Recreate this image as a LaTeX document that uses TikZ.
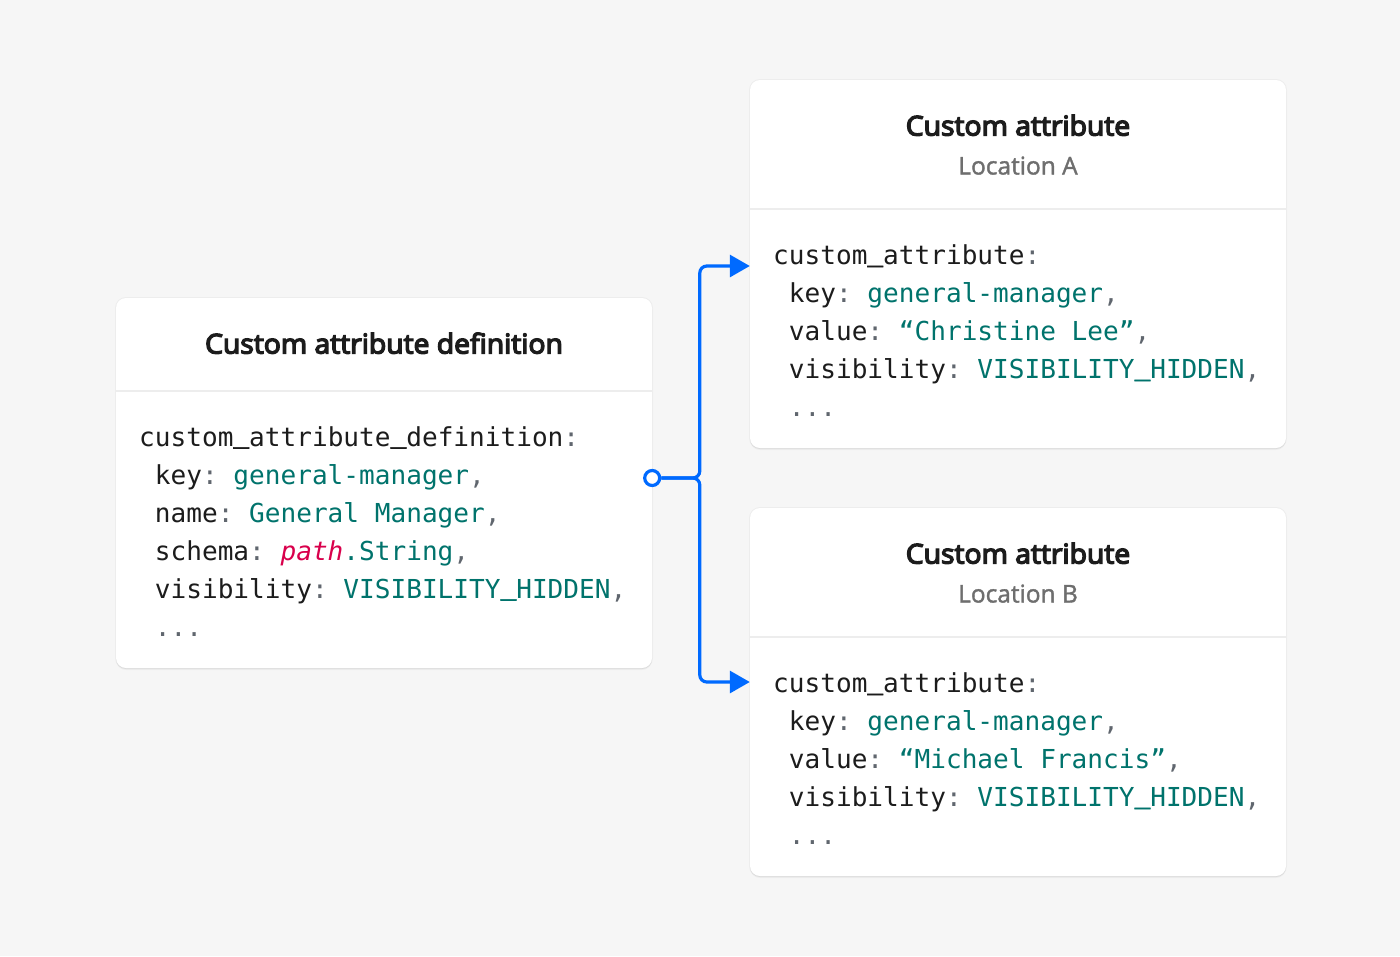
\documentclass[tikz,border=0pt]{standalone}
\usepackage{fontspec}
\setmonofont{DejaVu Sans Mono}
\newfontfamily\titlefont{Open Sans}[FakeBold=5,FakeStretch=1.04]
\newfontfamily\subfont{Open Sans}[FakeBold=1.5]
\usetikzlibrary{arrows.meta}
\definecolor{bg}{HTML}{F6F6F6}
\definecolor{linkblue}{HTML}{006AFF}
\definecolor{codeteal}{HTML}{00736C}
\definecolor{codepink}{HTML}{D9004C}
\definecolor{punct}{HTML}{60666E}
\definecolor{ink}{HTML}{1C1C1C}
\definecolor{subgray}{HTML}{6E6E6E}
\definecolor{divider}{HTML}{EDEDED}
\newcommand\cg[1]{\textcolor{punct}{#1}}
\newcommand\cte[1]{\textcolor{codeteal}{#1}}
\newcommand\cpk[1]{\textcolor{codepink}{#1}}
\newcommand\us{\raisebox{0.14em}{\addfontfeature{FakeBold=2}\_}}
\begin{document}
\begin{tikzpicture}[x=1pt,y=-1pt,
  card/.style={fill=white, rounded corners=10pt, minimum width=536pt, inner sep=0pt,
    preaction={draw=black, draw opacity=0.035, line width=2pt},
    preaction={fill=black, fill opacity=0.035, transform canvas={yshift=-2pt}},
    preaction={fill=black, fill opacity=0.03, transform canvas={yshift=-1pt}}},
  divline/.style={draw=divider, line width=1.5pt},
  titletext/.style={anchor=base, inner sep=0pt, text=ink, font=\titlefont\fontsize{27.2}{32}\selectfont},
  subtext/.style={anchor=base, inner sep=0pt, text=subgray, font=\subfont\fontsize{24.5}{29}\selectfont},
  code/.style={anchor=base west, inner sep=0pt, text=ink, font=\ttfamily\fontsize{26.1}{30}\selectfont},
  conn/.style={draw=linkblue, line width=3.2pt, rounded corners=7pt},
  tip/.style={-{Triangle[length=20pt,width=22pt]}}
]
\useasboundingbox[fill=bg] (0,0) rectangle (1400,956);

% cards
\node[card, minimum height=370pt] (def) at (384,483) {};
\node[card, minimum height=368pt] (a) at (1018,264) {};
\node[card, minimum height=368pt] (b) at (1018,692) {};

% dividers
\draw[divline] (def.west |- 0,391) -- (def.east |- 0,391);
\draw[divline] (a.west |- 0,209) -- (a.east |- 0,209);
\draw[divline] (b.west |- 0,637) -- (b.east |- 0,637);

% titles
\node[titletext] (deft) at (384,353.5) {Custom attribute definition};
\node[titletext] (at) at (1018,135.5) {Custom attribute};
\node[subtext] (as) at (1018,174.5) {Location A};
\node[titletext] (bt) at (1018,563.5) {Custom attribute};
\node[subtext] (bs) at (1018,602.5) {Location B};

% definition code
\node[code] (d1) at (139,446) {custom\us attribute\us definition\cg{:}};
\node[code] (d2) at (154.7,484) {key\cg{:} \cte{general-manager}\cg{,}};
\node[code] (d3) at (154.7,522) {name\cg{:} \cte{General Manager}\cg{,}};
\node[code] (d4) at (154.7,560) {schema\cg{:} \cpk{\itshape path}\cte{.String}\cg{,}};
\node[code] (d5) at (154.7,598) {visibility\cg{:} \cte{VISIBILITY\us HIDDEN}\cg{,}};
\node[code] (d6) at (154.7,636) {\cg{...}};

% location A code
\node[code] (a1) at (773,264.5) {custom\us attribute\cg{:}};
\node[code] (a2) at (788.7,302.5) {key\cg{:} \cte{general-manager}\cg{,}};
\node[code] (a3) at (788.7,340.5) {value\cg{:} \cte{“Christine Lee”}\cg{,}};
\node[code] (a4) at (788.7,378.5) {visibility\cg{:} \cte{VISIBILITY\us HIDDEN}\cg{,}};
\node[code] (a5) at (788.7,416.5) {\cg{...}};

% location B code
\node[code] (b1) at (773,692.5) {custom\us attribute\cg{:}};
\node[code] (b2) at (788.7,730.5) {key\cg{:} \cte{general-manager}\cg{,}};
\node[code] (b3) at (788.7,768.5) {value\cg{:} \cte{“Michael Francis”}\cg{,}};
\node[code] (b4) at (788.7,806.5) {visibility\cg{:} \cte{VISIBILITY\us HIDDEN}\cg{,}};
\node[code] (b5) at (788.7,844.5) {\cg{...}};

% connectors
\node[circle, draw=linkblue, line width=3.2pt, fill=white, minimum size=15pt, inner sep=0pt] (src) at ([yshift=5pt]def.east) {};
\coordinate (ta) at ([yshift=-2pt]a.west);
\coordinate (tb) at ([yshift=10pt]b.west);
\draw[conn, tip] (src.east) -| ([xshift=-50pt]ta) -- (ta);
\draw[conn, tip] (src.east) -| ([xshift=-50pt]tb) -- (tb);
\end{tikzpicture}
\end{document}
